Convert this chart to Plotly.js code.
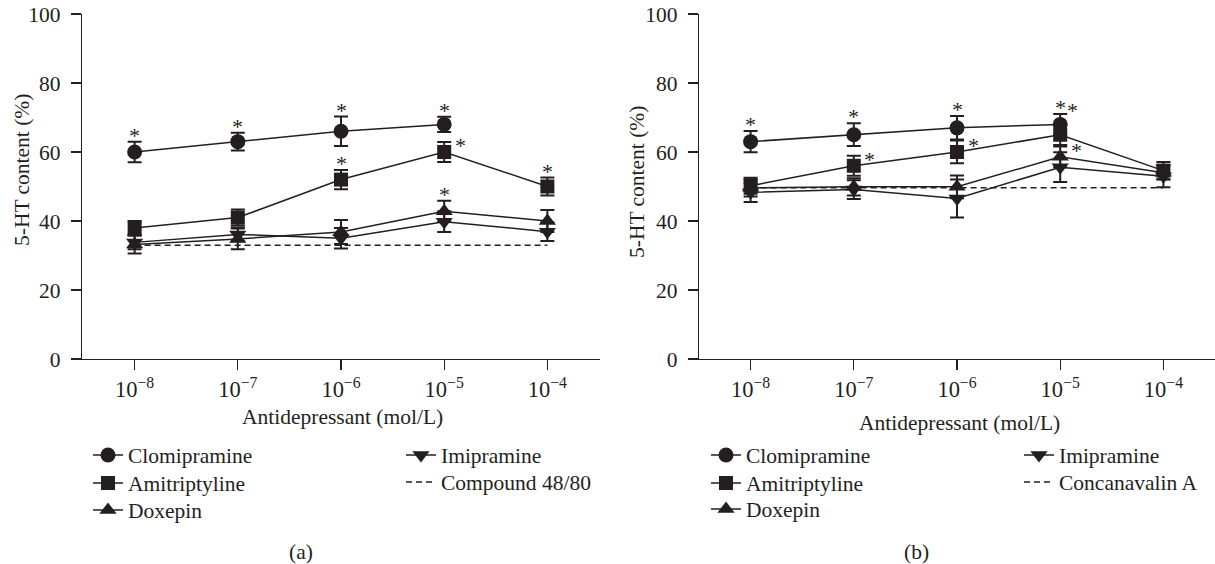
<!DOCTYPE html>
<html>
<head>
<meta charset="utf-8">
<script src="https://cdn.plot.ly/plotly-3.0.1.min.js"></script>
<style>html,body{margin:0;padding:0;background:#fff;}#chart{width:1215px;height:564px;}</style>
</head>
<body>
<div id="chart"></div>
<script>
// ---- data ----
const concLog = [-8, -7, -6, -5, -4];           // log10 concentration (mol/L)
const tickLabels = ['10<sup>−8</sup>', '10<sup>−7</sup>', '10<sup>−6</sup>', '10<sup>−5</sup>', '10<sup>−4</sup>'];
const seriesNames = ['Clomipramine', 'Amitriptyline', 'Doxepin', 'Imipramine'];

// Panel (a): Compound 48/80
const aClomipramine = [60, 63, 66, 68, null];
const aClomipramineSD = [3, 2.6, 4.3, 2.2, 0];
const aAmitriptyline = [38, 41, 52, 60, 50];
const aAmitriptylineSD = [2, 2.3, 2.8, 2.9, 2.6];
const aDoxepin = [33.2, 34.8, 36.8, 42.8, 40];
const aDoxepinSD = [2.6, 3, 3.5, 3.1, 3.2];
const aImipramine = [33.8, 36.1, 35, 39.8, 36.9];
const aImipramineSD = [2, 2, 3, 3, 2.7];
const aControl = 33;
const aControlName = 'Compound 48/80';

// Panel (b): Concanavalin A
const bClomipramine = [63, 65, 67, 68, null];
const bClomipramineSD = [3.1, 3.3, 3.4, 3, 0];
const bAmitriptyline = [50.2, 56, 60, 65, 54.6];
const bAmitriptylineSD = [2.3, 2.9, 3.3, 3, 2.5];
const bDoxepin = [49.6, 49.9, 49.9, 58.6, 54];
const bDoxepinSD = [2.5, 2.5, 3.3, 3, 2];
const bImipramine = [48.3, 49.1, 46.5, 55.6, 53];
const bImipramineSD = [2.8, 2.7, 5.5, 4.3, 3.2];
const bControl = 49.6;
const bControlName = 'Concanavalin A';

// significance marks: [series index, concentration index, placement]
const aStars = [[0,0,'top'],[0,1,'top'],[0,2,'top'],[0,3,'top'],[1,2,'top'],[1,3,'right'],[1,4,'top'],[2,3,'top']];
const bStars = [[0,0,'top'],[0,1,'top'],[0,2,'top'],[0,3,'top'],[0,3,'topright'],[1,1,'right'],[1,2,'right'],[2,3,'right']];

// ---- styling ----
const INK = '#231f20';
const FONT = 'Liberation Serif, Times New Roman, serif';
const FS = 21.5;
const symbols = ['circle', 'square', 'triangle-up', 'triangle-down'];
const sizes = [15, 14, 15, 15];

// legend slots: [x of legend box, y of row centre] for each series + control
const legSlotsA = [[88, 455], [88, 483], [88, 510], [401, 455], [401, 482]];
const legSlotsB = [[706, 455], [706, 483], [706, 509], [1019, 455], [1019, 482]];

function panelTraces(vals, sds, ctrl, ctrlName, xa, ya, legOffset) {
  const traces = [];
  vals.forEach((v, i) => {
    traces.push({
      type: 'scatter', mode: 'lines+markers', name: seriesNames[i],
      x: concLog, y: v, xaxis: xa, yaxis: ya,
      legend: 'legend' + (legOffset + i + 1),
      line: {color: INK, width: 1.5},
      marker: {symbol: symbols[i], size: sizes[i], color: INK},
      error_y: {type: 'data', array: sds[i], visible: true, color: INK, thickness: 2, width: 7},
      connectgaps: false, cliponaxis: false
    });
  });
  traces.push({
    type: 'scatter', mode: 'lines', name: ctrlName,
    x: [concLog[0], concLog[concLog.length - 1]], y: [ctrl, ctrl],
    xaxis: xa, yaxis: ya, legend: 'legend' + (legOffset + 5),
    line: {color: INK, width: 1.5, dash: '6px,4px'}
  });
  return traces;
}

const aVals = [aClomipramine, aAmitriptyline, aDoxepin, aImipramine];
const aSDs = [aClomipramineSD, aAmitriptylineSD, aDoxepinSD, aImipramineSD];
const bVals = [bClomipramine, bAmitriptyline, bDoxepin, bImipramine];
const bSDs = [bClomipramineSD, bAmitriptylineSD, bDoxepinSD, bImipramineSD];

const tA = panelTraces(aVals, aSDs, aControl, aControlName, 'x', 'y', 0);
const tB = panelTraces(bVals, bSDs, bControl, bControlName, 'x2', 'y2', 5);
const data = tA.concat(tB);

function starAnnots(stars, vals, sds, xref, yref) {
  return stars.map(([s, c, place]) => {
    const m = vals[s][c], e = sds[s][c];
    let y, xs = 0;
    if (place === 'top') { y = m + e + 3; }
    else if (place === 'topright') { y = m + e + 2.2; xs = 12; }
    else { y = m + 3; xs = 16; }
    return {text: '*', x: concLog[c], y: y, xref: xref, yref: yref, showarrow: false,
            xshift: xs, yshift: -4, xanchor: 'center', yanchor: 'middle',
            font: {family: FONT, size: 22, color: INK}};
  });
}

const textAnn = (text, x, y, angle) => ({
  text: text, x: x / 1215, y: 1 - y / 564, xref: 'paper', yref: 'paper', showarrow: false,
  xanchor: 'center', yanchor: 'middle', textangle: angle || 0,
  font: {family: FONT, size: FS, color: INK}
});

const annotations = []
  .concat(starAnnots(aStars, aVals, aSDs, 'x', 'y'))
  .concat(starAnnots(bStars, bVals, bSDs, 'x2', 'y2'))
  .concat([
    textAnn('5-HT content (%)', 22, 170, -90),
    textAnn('5-HT content (%)', 637, 182, -90),
    textAnn('Antidepressant (mol/L)', 342, 417),
    textAnn('Antidepressant (mol/L)', 959, 423),
    textAnn('(a)', 301, 552),
    textAnn('(b)', 916, 552)
  ]);

const xBase = (dom) => ({
  domain: dom, range: [-8.51, -3.49], tickvals: concLog, ticktext: tickLabels,
  ticks: 'outside', ticklen: 10, tickwidth: 1.3, tickcolor: INK,
  showline: true, linewidth: 1.3, linecolor: INK, showgrid: false, zeroline: false,
  tickfont: {family: FONT, size: 22.5, color: INK}, fixedrange: true
});
const yBase = (anchor) => ({
  domain: [0.3635, 0.9752], range: [0, 100], dtick: 20, anchor: anchor,
  ticks: 'outside', ticklen: 10, tickwidth: 1.3, tickcolor: INK, ticklabelstandoff: 6,
  showline: true, linewidth: 1.3, linecolor: INK, showgrid: false, zeroline: false,
  tickfont: {family: FONT, size: FS, color: INK}, fixedrange: true
});

const legBox = (slot) => ({
  x: slot[0] / 1215, y: 1 - slot[1] / 564, xanchor: 'left', yanchor: 'middle', orientation: 'v',
  bgcolor: 'rgba(0,0,0,0)', borderwidth: 0, traceorder: 'normal', tracegroupgap: 0,
  font: {family: FONT, size: FS, color: INK}, itemwidth: 30
});

const layout = {
  width: 1215, height: 564,
  margin: {l: 0, r: 0, t: 0, b: 0},
  paper_bgcolor: '#fff', plot_bgcolor: '#fff',
  xaxis: Object.assign(xBase([82 / 1215, 600 / 1215]), {anchor: 'y'}),
  yaxis: yBase('x'),
  xaxis2: Object.assign(xBase([699 / 1215, 1]), {anchor: 'y2', range: [-8.5, -3.5]}),
  yaxis2: yBase('x2'),
  annotations: annotations,
  showlegend: true
};
legSlotsA.concat(legSlotsB).forEach((slot, i) => {
  layout[i === 0 ? 'legend' : 'legend' + (i + 1)] = legBox(slot);
});
// first trace uses 'legend1' name -> map to 'legend'
data.forEach(t => { if (t.legend === 'legend1') t.legend = 'legend'; });

Plotly.newPlot('chart', data, layout, {displayModeBar: false, staticPlot: true});
</script>
</body>
</html>
